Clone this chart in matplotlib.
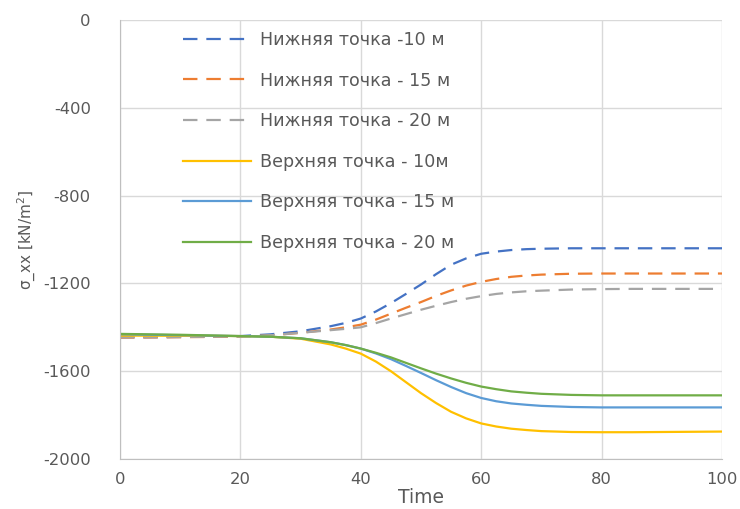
import matplotlib
matplotlib.use("Agg")
import matplotlib.pyplot as plt

plt.rcParams["axes.unicode_minus"] = False

# Time axis samples (denser through the transition)
time = [0, 5, 10, 15, 20, 25, 30, 35, 37.5, 40, 42.5, 45, 47.5, 50, 52.5, 55, 57.5, 60, 62.5,
        65, 67.5, 70, 75, 80, 85, 90, 95, 100]

# Lower points (dashed)
lower_10 = [-1445, -1445, -1444, -1443, -1440, -1432, -1418, -1395, -1380, -1360, -1328, -1290,
            -1248, -1205, -1158, -1115, -1086, -1065, -1055, -1048, -1044, -1042, -1040, -1040,
            -1040, -1040, -1040, -1040]
lower_15 = [-1447, -1446, -1445, -1444, -1442, -1437, -1425, -1410, -1400, -1388, -1365, -1338,
            -1311, -1285, -1257, -1232, -1210, -1193, -1180, -1170, -1164, -1160, -1156, -1155,
            -1155, -1155, -1155, -1155]
lower_20 = [-1446, -1445, -1444, -1443, -1442, -1436, -1425, -1413, -1407, -1400, -1381, -1360,
            -1340, -1320, -1302, -1285, -1270, -1258, -1248, -1241, -1236, -1233, -1228, -1226,
            -1225, -1225, -1225, -1225]

# Upper points (solid)
upper_10 = [-1438, -1438, -1439, -1439, -1440, -1443, -1452, -1478, -1497, -1520, -1556, -1600,
            -1650, -1700, -1745, -1785, -1815, -1838, -1852, -1862, -1868, -1873, -1877, -1878,
            -1878, -1877, -1876, -1875]
upper_15 = [-1432, -1434, -1436, -1438, -1440, -1443, -1450, -1468, -1481, -1497, -1519, -1545,
            -1576, -1608, -1641, -1672, -1700, -1722, -1737, -1747, -1753, -1758, -1763, -1765,
            -1765, -1765, -1765, -1765]
upper_20 = [-1430, -1432, -1434, -1437, -1440, -1443, -1450, -1468, -1481, -1497, -1516, -1537,
            -1562, -1587, -1611, -1633, -1653, -1670, -1682, -1692, -1698, -1703, -1708, -1710,
            -1710, -1710, -1710, -1710]

labels = ["Нижняя точка -10 м", "Нижняя точка - 15 м", "Нижняя точка - 20 м",
          "Верхняя точка - 10м", "Верхняя точка - 15 м", "Верхняя точка - 20 м"]
x_ticks = [0, 20, 40, 60, 80, 100]
y_ticks = [0, -400, -800, -1200, -1600, -2000]

text_color = "#595959"
grid_color = "#D9D9D9"

fig = plt.figure(figsize=(7.40, 5.09), dpi=100)
ax = fig.add_axes([120 / 740, 1 - 459 / 509, (722 - 120) / 740, (459 - 20) / 509])

dash = (6.5, 4)
series = [
    (lower_10, "#4472C4", dash),
    (lower_15, "#ED7D31", dash),
    (lower_20, "#A5A5A5", dash),
    (upper_10, "#FFC000", None),
    (upper_15, "#5B9BD5", None),
    (upper_20, "#70AD47", None),
]
for (vals, color, dsh), label in zip(series, labels):
    if dsh:
        ax.plot(time, vals, color=color, lw=1.6, dashes=dsh, label=label)
    else:
        ax.plot(time, vals, color=color, lw=1.6, label=label)

ax.set_xlim(0, 100)
ax.set_ylim(-2000, 0)
ax.set_xticks(x_ticks)
ax.set_yticks(y_ticks)
ax.grid(True, color=grid_color, lw=1)
ax.set_axisbelow(True)
for s in ["top", "right"]:
    ax.spines[s].set_visible(False)
for s in ["left", "bottom"]:
    ax.spines[s].set_color("#BFBFBF")
ax.tick_params(axis="y", length=0, labelsize=11.8, labelcolor=text_color, pad=21)
ax.tick_params(axis="x", length=0, labelsize=11.8, labelcolor=text_color, pad=9)

ax.set_xlabel("Time", fontsize=13.5, color=text_color, labelpad=1)
ax.set_ylabel("σ_xx [kN/m$^2$]", fontsize=11, color=text_color, labelpad=4)

leg = ax.legend(loc="upper left", bbox_to_anchor=(183 / 740, 1 - 31 / 509),
                bbox_transform=fig.transFigure, frameon=False, fontsize=12.6,
                handlelength=3.9, handletextpad=0.5, labelspacing=1.29,
                borderpad=0, borderaxespad=0)
for t in leg.get_texts():
    t.set_color(text_color)

fig.savefig("out.png", dpi=100)
